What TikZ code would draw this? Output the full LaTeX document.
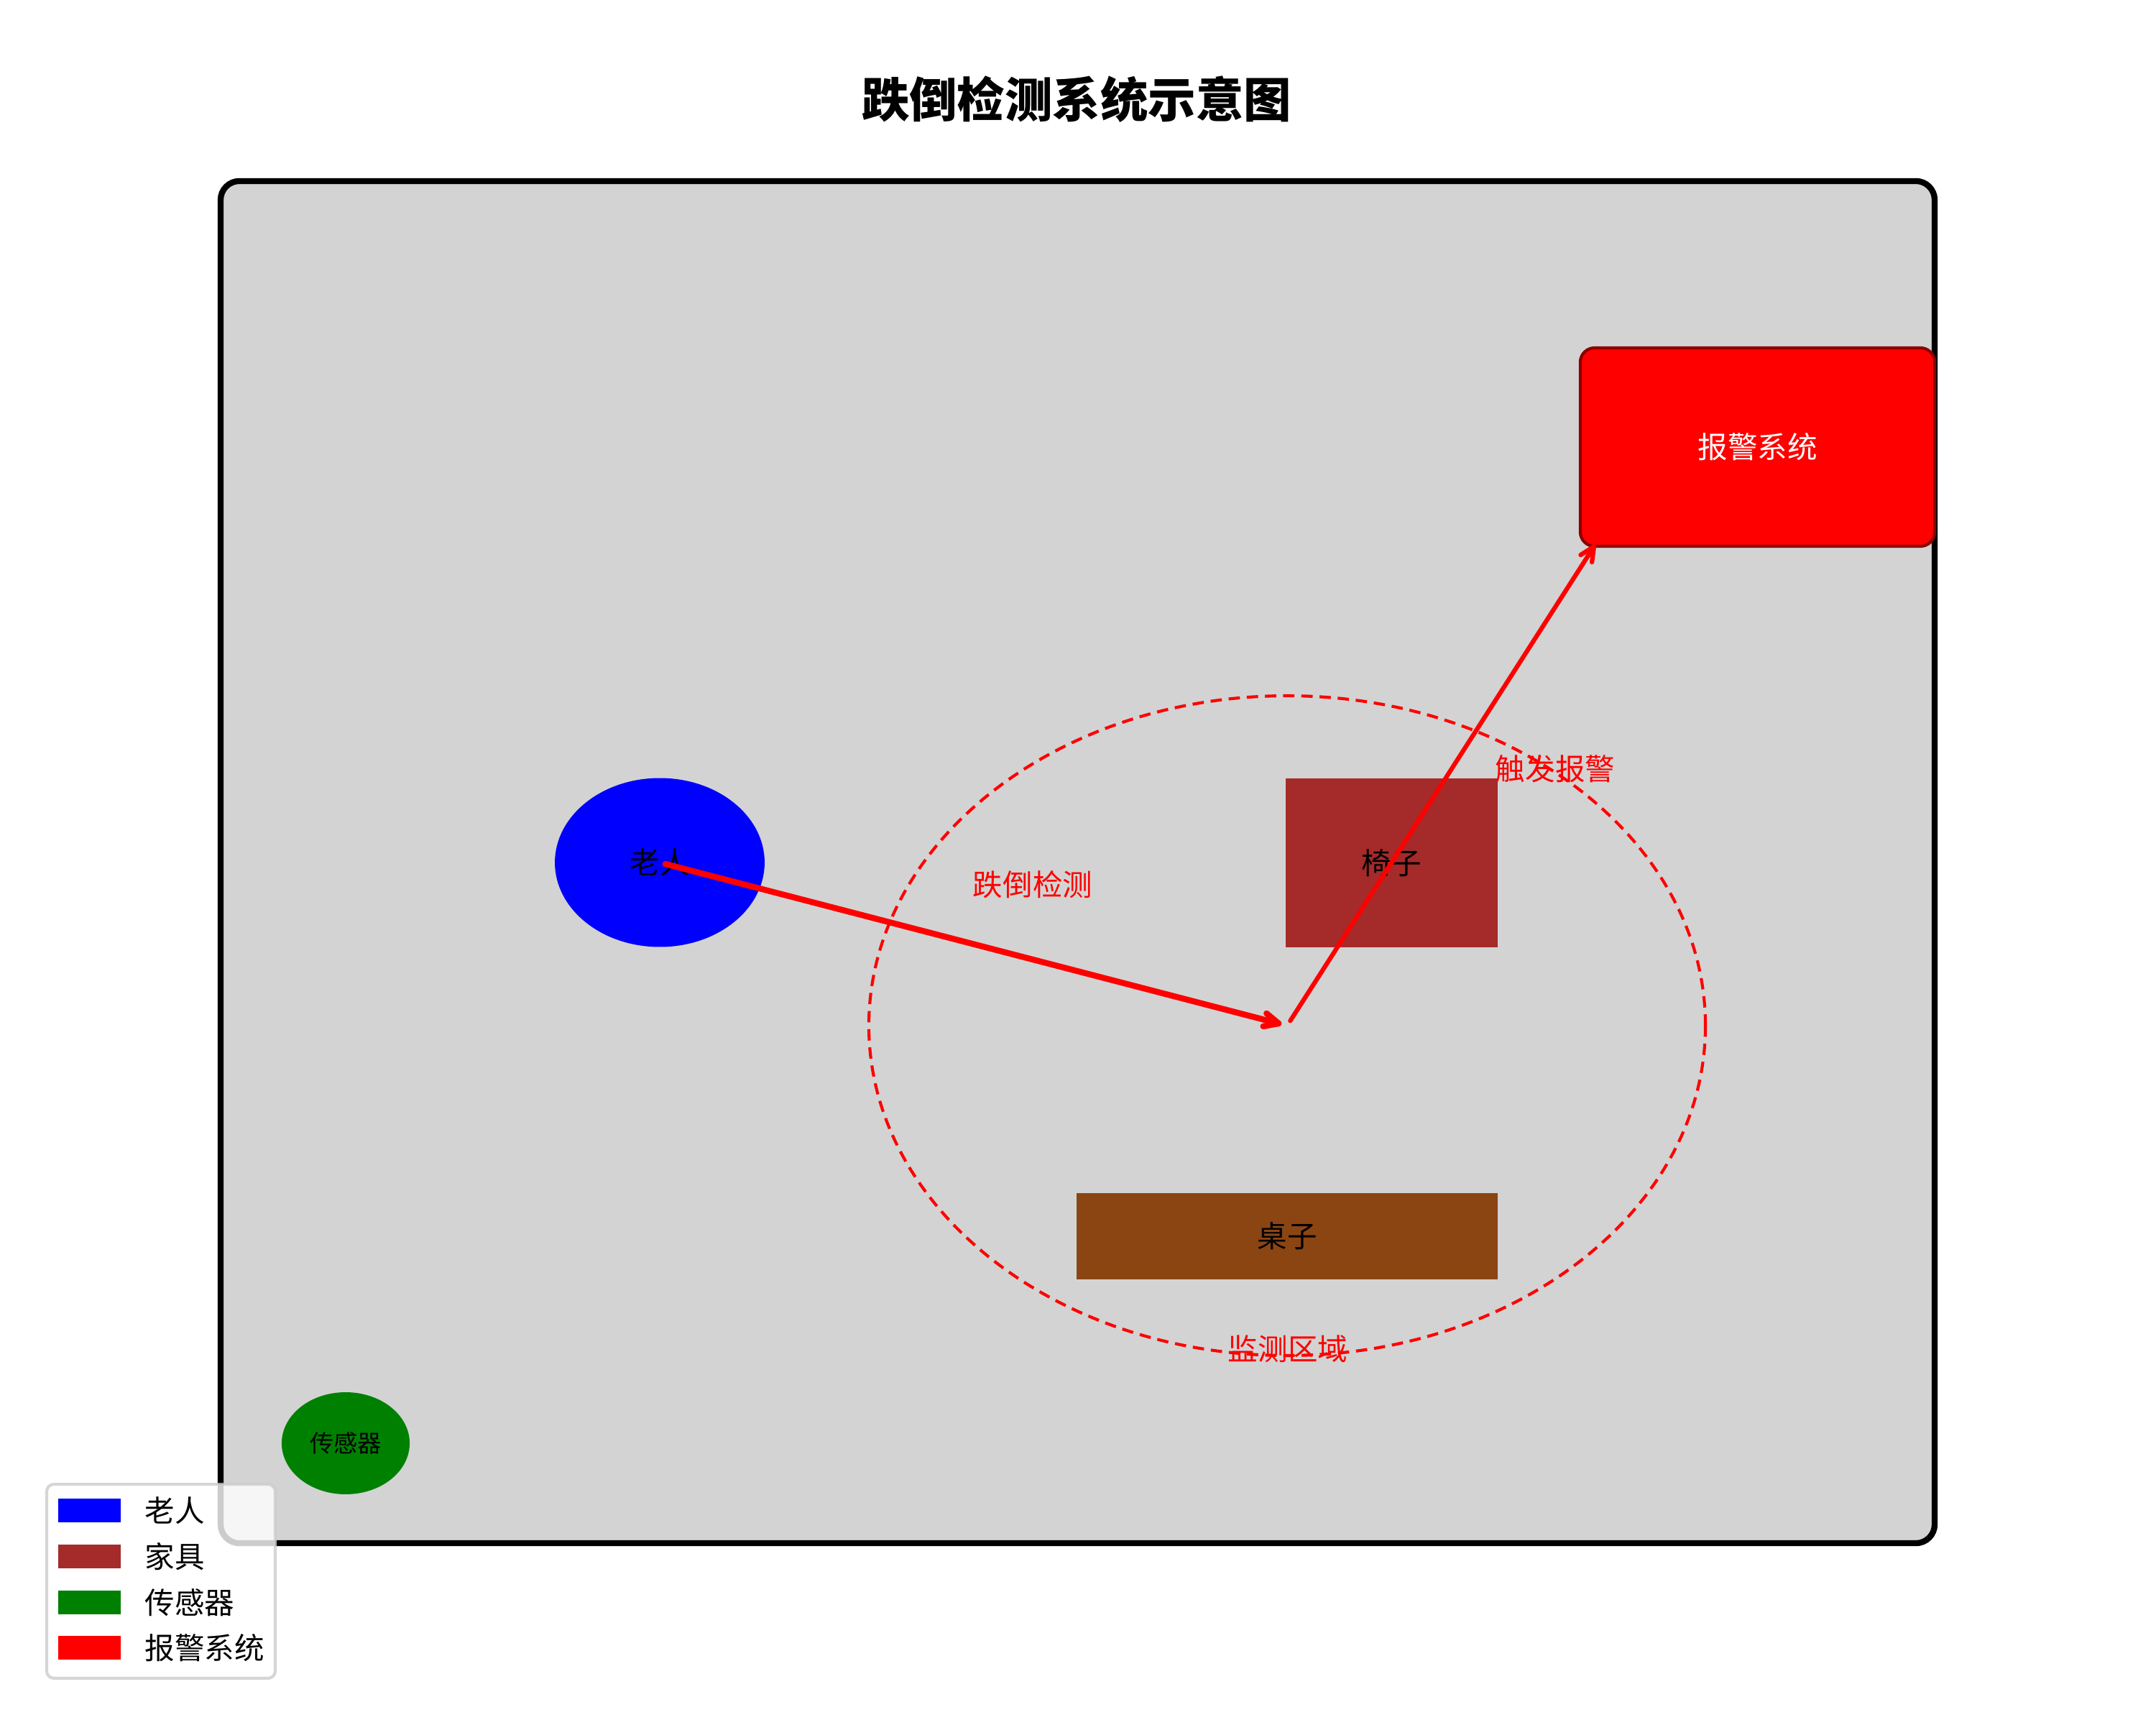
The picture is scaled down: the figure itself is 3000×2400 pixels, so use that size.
\documentclass[tikz,border=0pt]{standalone}
\usepackage{fontspec}
\setmainfont{Noto Sans CJK SC}
\usetikzlibrary{shapes.geometric,arrows.meta}
\definecolor{roomgray}{HTML}{D3D3D3}
\definecolor{chairbrown}{HTML}{A52A2A}
\definecolor{tablebrown}{HTML}{8B4513}
\definecolor{sensorgreen}{HTML}{008000}
\definecolor{alarmedge}{HTML}{8B0000}
\definecolor{legendedge}{HTML}{CCCCCC}
\begin{document}
\begin{tikzpicture}[x=0.24088pt,y=-0.24088pt,
  txt/.style={font=\fontsize{10}{12}\selectfont, inner sep=0pt},
  redtxt/.style={txt, text=red},
  roombox/.style={draw=black, line width=2pt, fill=roomgray, rounded corners=6.3pt,
    minimum width=574.5pt, minimum height=456.5pt, inner sep=0pt},
  zone/.style={ellipse, draw=red, line width=1pt, dash pattern=on 3.8pt off 2.3pt,
    minimum width=280.4pt, minimum height=221.1pt, inner sep=0pt},
  person/.style={ellipse, fill=blue, minimum width=70.3pt, minimum height=56.6pt, inner sep=0pt, txt},
  furniture/.style={rectangle, inner sep=0pt, txt},
  sensorbox/.style={ellipse, fill=sensorgreen, minimum width=42.9pt, minimum height=34.2pt,
    inner sep=0pt, font=\fontsize{8}{10}\selectfont},
  alarmbox/.style={rectangle, draw=alarmedge, fill=red, line width=1pt, rounded corners=4.8pt,
    minimum width=118.8pt, minimum height=66.5pt, inner sep=0pt, txt, text=white},
  flowarrow/.style={draw=red, line width=2pt, line cap=round,
    -{Straight Barb[length=4.8pt,width=4.5pt,round]}, shorten <=1.93pt, shorten >=1.93pt},
  alarmarrow/.style={flowarrow, line width=1.5pt},
  legendbox/.style={rectangle, draw=legendedge, draw opacity=0.8, fill=white, fill opacity=0.8,
    line width=1pt, rounded corners=2.4pt, minimum width=76.6pt, minimum height=65pt, inner sep=0pt},
  legendpatch/.style={rectangle, minimum width=21pt, minimum height=7.9pt, inner sep=0pt},
  legendtxt/.style={txt, anchor=west}
]
\useasboundingbox (0,0) rectangle (3000,2400);
\fill[white] (0,0) rectangle (3000,2400);

% title
\node[inner sep=0pt, font=\fontsize{16}{19}\selectfont\bfseries] (title) at (1498,138) {跌倒检测系统示意图};

% room
\node[roombox] (room) at (1499.5,1199.5) {};

% monitoring zone
\node[zone] (zone) at (1791,1427) {};

% elder, furniture, sensor, alarm
\node[person] (elder) at (918,1200) {老人};
\node[furniture, fill=chairbrown, minimum width=71.1pt, minimum height=56.6pt] (chair) at (1936.5,1200.5) {椅子};
\node[furniture, fill=tablebrown, minimum width=141.2pt, minimum height=28.9pt] (table) at (1791,1720) {桌子};
\node[sensorbox] (sensor) at (481,2008) {传感器};
\node[alarmbox] (alarm) at (2445.5,622) {报警系统};

% connectors
\coordinate (fall) at (1791,1427);
\coordinate (alarmin) at (2224,751);
\draw[flowarrow] (elder.center) -- (fall);
\draw[alarmarrow] (fall) -- (alarmin);

% labels
\node[redtxt] (lblfall) at (1437,1231) {跌倒检测};
\node[redtxt] (lbltrig) at (2164,1070) {触发报警};
\node[redtxt] (lblzone) at (1792,1877) {监测区域};

% legend
\node[legendbox] (legend) at (224,2200) {};
\node[legendpatch, fill=blue] (lp1) at (124.5,2101.5) {};
\node[legendpatch, fill=chairbrown] (lp2) at (124.5,2165.5) {};
\node[legendpatch, fill=sensorgreen] (lp3) at (124.5,2229.5) {};
\node[legendpatch, fill=red] (lp4) at (124.5,2292.5) {};
\node[legendtxt] (lt1) at (201,2101.5) {老人};
\node[legendtxt] (lt2) at (201,2165.5) {家具};
\node[legendtxt] (lt3) at (201,2229.5) {传感器};
\node[legendtxt] (lt4) at (201,2292.5) {报警系统};
\end{tikzpicture}
\end{document}
